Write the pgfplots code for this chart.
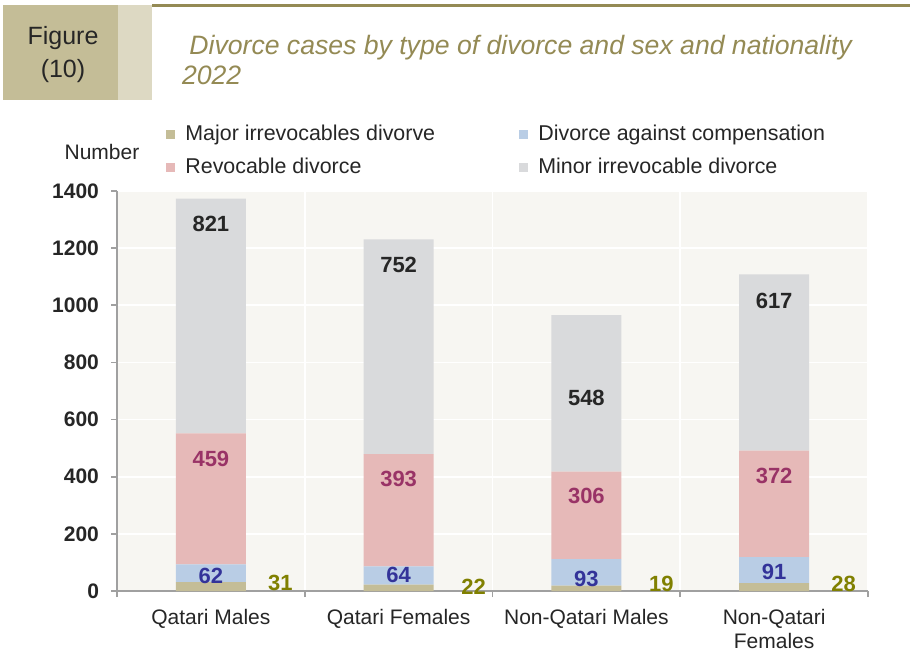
\documentclass[border=0pt]{standalone}
\usepackage{fontspec}
\setmainfont{Liberation Sans}
\usepackage{pgfplots}
\pgfplotsset{compat=1.18}

\definecolor{figtan}{HTML}{C4BD97}
\definecolor{figstrip}{HTML}{DDD9C3}
\definecolor{titlecol}{HTML}{948A54}
\definecolor{plotbg}{HTML}{F7F6F2}
\definecolor{axisgray}{HTML}{A0A0A0}
\definecolor{cmajor}{HTML}{C4BD97}
\definecolor{ccomp}{HTML}{B9CDE5}
\definecolor{crevoc}{HTML}{E6B9B8}
\definecolor{cminor}{HTML}{D9DADC}
\definecolor{lblolive}{HTML}{808000}
\definecolor{lblblue}{HTML}{333399}
\definecolor{lblred}{HTML}{993366}
\definecolor{lblblack}{HTML}{262626}

\begin{document}
\begin{tikzpicture}[x=0.5pt,y=-0.5pt]
% canvas in reference pixels (1px = 0.5pt)
\path[use as bounding box, fill=white] (0,0) rectangle (910,654);

% header
\fill[figtan] (3,5) rectangle (118,100);
\fill[figstrip] (118,5) rectangle (152,100);
\draw[titlecol, line width=1.5pt] (152,5) -- (910,5);
\node[font=\fontsize{12.5}{16.5}\selectfont, align=center, text=black!85] at (63,55) {Figure\\(10)};
\node[font=\fontsize{13.3}{15}\selectfont\itshape, text=titlecol, anchor=west, align=left] at (175,60)
  {\ Divorce cases by type of divorce and sex and nationality\\2022};

\node[font=\fontsize{10.5}{12}\selectfont, text=black!85] at (102,152) {Number};

\begin{axis}[
    at={(58.5pt,-295.5pt)}, anchor=south west,
    scale only axis,
    width=375.5pt, height=200pt,
    xmin=-0.5, xmax=3.5,
    ymin=0, ymax=1400,
    ybar stacked,
    bar width=0.372,
    axis background/.style={fill=plotbg},
    axis x line*=bottom, axis y line*=left,
    axis line style={draw=axisgray, line width=0.9pt},
    tick align=outside,
    ytick={0,200,...,1400},
    major tick length=3pt,
    minor tick length=3pt,
    ytick style={draw=axisgray, line width=0.9pt},
    minor tick style={draw=axisgray, line width=0.9pt},
    xtick={0,1,2,3},
    major x tick style={draw=none},
    minor xtick={-0.5,0.5,1.5,2.5,3.5},
    xticklabels={Qatari Males, Qatari Females, Non-Qatari Males, {Non-Qatari\\Females}},
    xticklabel style={align=center, font=\fontsize{10.5}{12}\selectfont, text=black!85, yshift=-2.5pt},
    yticklabel style={font=\bfseries\fontsize{10.5}{12}\selectfont, text=black!85, xshift=-2.5pt},
    /pgf/number format/assume math mode=true,
    /pgf/number format/1000 sep={},
    ymajorgrids, xminorgrids,
    major grid style={draw=white, line width=0.8pt},
    minor grid style={draw=white, line width=0.8pt},
    legend columns=2,
    legend style={at={(0.065,1.175)}, anchor=north west, draw=none, fill=none,
        font=\fontsize{10.7}{12}\selectfont, text=black!85,
        row sep=3pt, inner sep=0pt,
        /tikz/every odd column/.append style={column sep=3pt},
        /tikz/every even column/.append style={column sep=40pt}},
    legend cell align=left,
    legend image code/.code={\path[#1] (0pt,-2.3pt) rectangle (4.6pt,2.3pt);},
]
\addplot[fill=cmajor, draw=none] coordinates {(0,31) (1,22) (2,19) (3,28)};
\addlegendentry{Major irrevocables divorve}
\addplot[fill=ccomp, draw=none] coordinates {(0,62) (1,64) (2,93) (3,91)};
\addlegendentry{Divorce against compensation}
\addplot[fill=crevoc, draw=none] coordinates {(0,459) (1,393) (2,306) (3,372)};
\addlegendentry{Revocable divorce}
\addplot[fill=cminor, draw=none] coordinates {(0,821) (1,752) (2,548) (3,617)};
\addlegendentry{Minor irrevocable divorce}

% label anchors (value labels are set after the axis so they sit above the bars)
\coordinate (a1) at (axis cs:0.37,27);
\coordinate (a2) at (axis cs:1.40,15);
\coordinate (a3) at (axis cs:2.40,25);
\coordinate (a4) at (axis cs:3.37,25);
\coordinate (b1) at (axis cs:0,52);
\coordinate (b2) at (axis cs:1,56);
\coordinate (b3) at (axis cs:2,42);
\coordinate (b4) at (axis cs:3,66);
\coordinate (c1) at (axis cs:0,462);
\coordinate (c2) at (axis cs:1,392);
\coordinate (c3) at (axis cs:2,332);
\coordinate (c4) at (axis cs:3,402);
\coordinate (d1) at (axis cs:0,1285);
\coordinate (d2) at (axis cs:1,1141);
\coordinate (d3) at (axis cs:2,675);
\coordinate (d4) at (axis cs:3,1015);
\end{axis}

\tikzset{lbl/.style={font=\bfseries\fontsize{11}{13}\selectfont}}
\node[lbl, text=lblolive] at (a1) {31};
\node[lbl, text=lblolive] at (a2) {22};
\node[lbl, text=lblolive] at (a3) {19};
\node[lbl, text=lblolive] at (a4) {28};
\node[lbl, text=lblblue] at (b1) {62};
\node[lbl, text=lblblue] at (b2) {64};
\node[lbl, text=lblblue] at (b3) {93};
\node[lbl, text=lblblue] at (b4) {91};
\node[lbl, text=lblred] at (c1) {459};
\node[lbl, text=lblred] at (c2) {393};
\node[lbl, text=lblred] at (c3) {306};
\node[lbl, text=lblred] at (c4) {372};
\node[lbl, text=lblblack] at (d1) {821};
\node[lbl, text=lblblack] at (d2) {752};
\node[lbl, text=lblblack] at (d3) {548};
\node[lbl, text=lblblack] at (d4) {617};
\end{tikzpicture}
\end{document}
